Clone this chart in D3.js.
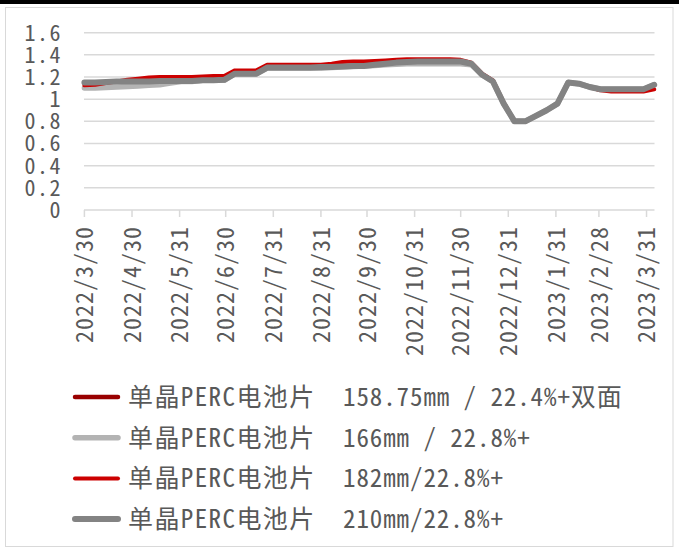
<!DOCTYPE html>
<html><head><meta charset="utf-8">
<script src="https://cdn.jsdelivr.net/npm/d3@7"></script>
<style>body{margin:0;background:#fff} svg{display:block}</style>
</head><body><svg width="679" height="549"></svg>
<script>
const dates = ["2022-03-30","2022-04-06","2022-04-13","2022-04-20","2022-04-27","2022-05-04","2022-05-11","2022-05-18","2022-05-25","2022-06-01","2022-06-08","2022-06-15","2022-06-22","2022-06-29","2022-07-06","2022-07-13","2022-07-20","2022-07-27","2022-08-03","2022-08-10","2022-08-17","2022-08-24","2022-08-31","2022-09-07","2022-09-14","2022-09-21","2022-09-28","2022-10-05","2022-10-12","2022-10-19","2022-10-26","2022-11-02","2022-11-09","2022-11-16","2022-11-23","2022-11-30","2022-12-07","2022-12-14","2022-12-21","2022-12-28","2023-01-04","2023-01-11","2023-01-18","2023-01-25","2023-02-01","2023-02-08","2023-02-15","2023-02-22","2023-03-01","2023-03-08","2023-03-15","2023-03-22","2023-03-29","2023-04-05"];
const s158 = [];
const s166 = [1.10,1.10,1.105,1.11,1.115,1.12,1.125,1.13,1.145,1.16,1.16,1.17,1.17,1.17,1.23,1.23,1.23,1.28,1.28,1.28,1.28,1.28,1.28,1.285,1.29,1.295,1.30,1.305,1.31,1.315,1.32,1.32,1.32,1.32,1.32,1.32,1.31,1.22,1.16,0.96,0.80,0.80,0.85,0.90,0.96,1.15,1.14,1.11,1.09,1.09,1.09,1.09,1.09,1.13];
const s182 = [1.125,1.13,1.145,1.16,1.175,1.185,1.195,1.20,1.20,1.20,1.20,1.205,1.21,1.21,1.26,1.26,1.26,1.31,1.31,1.31,1.31,1.31,1.31,1.32,1.335,1.34,1.34,1.345,1.35,1.355,1.36,1.36,1.36,1.36,1.36,1.355,1.33,1.23,1.17,0.97,0.80,0.80,0.85,0.90,0.96,1.15,1.14,1.11,1.08,1.07,1.07,1.07,1.07,1.09];
const s210 = [1.15,1.15,1.155,1.16,1.16,1.16,1.16,1.165,1.165,1.165,1.165,1.17,1.17,1.175,1.23,1.23,1.23,1.285,1.285,1.285,1.285,1.285,1.29,1.29,1.295,1.30,1.30,1.31,1.32,1.33,1.335,1.34,1.34,1.34,1.34,1.34,1.32,1.22,1.16,0.96,0.80,0.80,0.85,0.90,0.96,1.15,1.14,1.11,1.09,1.09,1.09,1.09,1.09,1.13];
const xTickDates = ["2022-03-30","2022-04-30","2022-05-31","2022-06-30","2022-07-31","2022-08-31","2022-09-30","2022-10-31","2022-11-30","2022-12-31","2023-01-31","2023-02-28","2023-03-31"];
const xTickLabels = ["2022/3/30","2022/4/30","2022/5/31","2022/6/30","2022/7/31","2022/8/31","2022/9/30","2022/10/31","2022/11/30","2022/12/31","2023/1/31","2023/2/28","2023/3/31"];
const yTicks = [0,0.2,0.4,0.6,0.8,1,1.2,1.4,1.6];
const yTickLabels = ["0","0.2","0.4","0.6","0.8","1","1.2","1.4","1.6"];
const seriesNames = ["单晶PERC电池片","单晶PERC电池片","单晶PERC电池片","单晶PERC电池片"];
const seriesSpecs = ["158.75mm / 22.4%+双面","166mm / 22.8%+","182mm/22.8%+","210mm/22.8%+"];
const seriesColors = ["#990000","#b3b3b3","#cc0000","#838383"];
const seriesWidths = [4.5,5.5,4,6];
const seriesData = [s158,s166,s182,s210];

const parse = d3.utcParse("%Y-%m-%d");
const svg = d3.select("svg");
const font = "'Noto Sans Mono CJK SC','Noto Sans CJK SC',sans-serif";

// frame
svg.append("rect").attr("x",0).attr("y",0).attr("width",679).attr("height",4).attr("fill","#000");
svg.append("rect").attr("x",5.5).attr("y",7.5).attr("width",667.5).attr("height",539)
  .attr("fill","none").attr("stroke","#d9d9d9").attr("stroke-width",1);

const x = d3.scaleUtc().domain([parse("2022-03-30"), parse("2023-04-05")]).range([84.4, 654.2]);
const y = d3.scaleLinear().domain([0,1.6]).range([210,32.7]);

// gridlines
svg.append("g").selectAll("line").data(yTicks).join("line")
  .attr("x1",84).attr("x2",654.5).attr("y1",d=>y(d)).attr("y2",d=>y(d))
  .attr("stroke","#d9d9d9").attr("stroke-width",1.5);

// y labels
svg.append("g").selectAll("text").data(yTicks).join("text")
  .attr("x",62).attr("y",d=>y(d)).attr("dy","0.36em").attr("text-anchor","end")
  .attr("font-family",font).attr("font-size",22).attr("letter-spacing","1.5px").attr("fill","#595959")
  .text((d,i)=>yTickLabels[i]);

// x ticks
const xt = xTickDates.map(parse);
svg.append("g").selectAll("line").data(xt).join("line")
  .attr("x1",d=>x(d)).attr("x2",d=>x(d)).attr("y1",210).attr("y2",217)
  .attr("stroke","#d9d9d9").attr("stroke-width",1.5);
svg.append("g").selectAll("text").data(xt).join("text")
  .attr("transform",d=>`translate(${x(d)},226) rotate(-90)`)
  .attr("dy","0.36em").attr("text-anchor","end")
  .attr("font-family",font).attr("font-size",24).attr("letter-spacing","1px").attr("fill","#595959")
  .text((d,i)=>xTickLabels[i]);

// lines
const line = d3.line().x((d,i)=>x(parse(dates[i]))).y(d=>y(d));
seriesData.forEach((s,i)=>{
  if(!s.length) return;
  svg.append("path").attr("d",line(s)).attr("fill","none")
    .attr("stroke",seriesColors[i]).attr("stroke-width",seriesWidths[i])
    .attr("stroke-linejoin","round").attr("stroke-linecap","round");
});

// legend
const lg = svg.append("g");
seriesNames.forEach((n,i)=>{
  const yy = 397 + i*40.7;
  lg.append("line").attr("x1",75).attr("x2",118).attr("y1",yy).attr("y2",yy)
    .attr("stroke",seriesColors[i]).attr("stroke-width",seriesWidths[i]).attr("stroke-linecap","round");
  lg.append("text").attr("x",128).attr("y",yy).attr("dy","0.36em")
    .attr("font-family",font).attr("font-size",25).attr("letter-spacing","1.4px").attr("fill","#595959").text(n);
  lg.append("text").attr("x",343).attr("y",yy).attr("dy","0.36em")
    .attr("font-family",font).attr("font-size",25).attr("letter-spacing","0.9px").attr("fill","#595959").text(seriesSpecs[i]);
});
</script>
</body></html>
